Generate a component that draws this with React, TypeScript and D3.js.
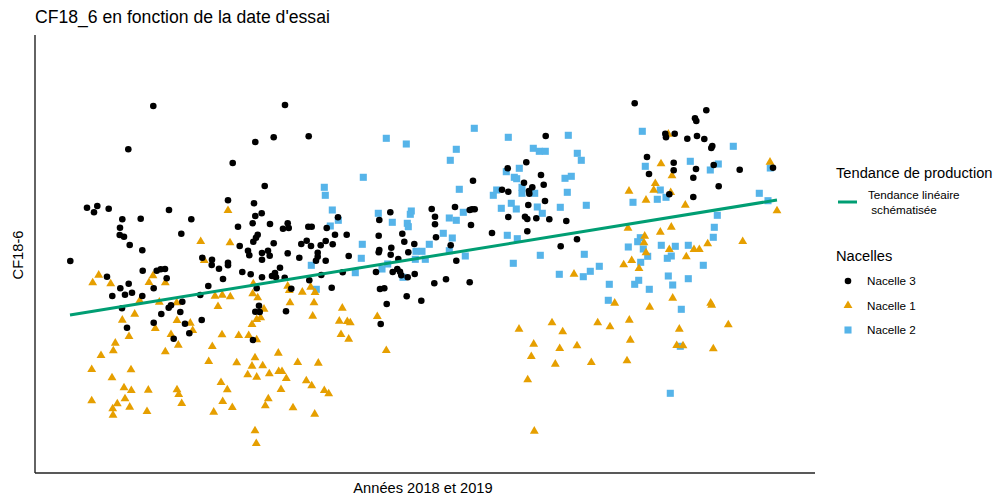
import React from "react";
import * as d3 from "d3";

// Data: x = position along the test period, y = CF18-6 (arbitrary units)
const nacelle3: [number, number][] = [
  [118.3,367],[93.3,323.7],[197.7,310],[193,272.7],[52,265.3],[62.3,267],[59,260.7],[73.7,264.3],[134,263],[87.3,253.7],
  [105.7,254.3],[156.3,253.7],[85,245.3],[84.7,238],[89,236.3],[146.3,239.3],[94.7,228],[107.3,222.7],[35.3,212],[167.3,215.3],
  [177,213.3],[176.7,208],[184,204.3],[193,210.3],[193,207.7],[107.7,202.3],[121.7,202.3],[125.7,203.7],[130,204],[72,196.3],
  [131.7,194.7],[188,194],
  [250,368],[220.3,331],[238.7,335.7],[273.7,336.7],[229.7,287],[219,269.7],[220.3,257],[226.7,259.7],[203,246.3],[217.7,249.7],
  [235,249],[248,244.3],[252.7,249.7],[253.7,245],[273.3,246.3],[276.7,246.3],[291.7,245],[303,255.7],[300,238.3],[311.7,238.3],
  [222.7,238.3],[221,235.3],[218.3,231.3],[204.7,227],[238.7,229.7],[213,222.3],[214.3,217.7],[227,220],[233,222.3],[234.7,217.3],
  [227,213.3],[252.7,219.7],[245,205.3],[264.3,215.3],[266.3,229],[271.7,232.3],[276,227],[285.7,227.7],[290.7,232],[297.7,228.7],
  [282.7,220.3],[282.7,216.3],[281,212.3],[290.7,212.3],[313.7,217],[207.3,201],[215.7,198.7],[227,195.7],[237,197],[240,200],
  [241,195.7],[249.7,195.3],[286.3,198],[307.7,200.7],[355.3,260.7],[344.3,253],[343.7,237.3],[396.7,264],[400,256.3],[400,248.7],
  [367.3,239.3],[356.3,225.3],[344.3,223],[343.7,220.7],[355.7,218.3],[369.3,231.3],[379.3,229],[373.3,220.7],[363.3,214],[401,235.7],
  [341,201],[357.7,201],[362.3,204],[365,201.3],[366.3,197.7],[372.7,195.7],[379.7,199],
  [599.7,369.7],[510.7,337],[472.7,304.7],[491.3,310.7],[506,298],[489,290.3],[497.3,285.7],[508.7,288.3],[438,292.3],[467,283.3],
  [473.3,281.3],[494,282],[494.3,279.3],[510,272],[493.3,268],[420,266],[434.7,263],[437,263.7],[439.7,263.7],[473.3,256],
  [490,256.3],[492.3,254],[501.3,254.7],[514.3,253.7],[531.3,252],[436,248],[457,240],[492.3,241.7],[415.7,227.7],[542,233.7],
  [525.7,226.7],[421.3,212.3],[411,193.7],
  [671.3,362.7],[660,354.7],[661.3,352],[630.3,339.3],[631,335.7],[639.7,339.3],[652.3,334.3],[662,337],[669.3,334],[677.3,327],
  [676.3,325],[612,316],[638.7,310.3],[638.7,302.7],[614,299],[661,304],[678.7,308],[704.7,303.3],[658.3,295.3],[683.7,286.7],
  [658.3,276],[634.3,278.7],[738,305.3],
  [85.3,184.7],[93.7,189.3],[77.3,177],[90,178.3],[97,180.3],[107.3,177],[118.7,184.7],[87,164.7],[92,145.3],[126.3,159],
  [133.7,165.3],[136,167.7],[147.3,171.3],[145.3,161],[118.7,150.3],[150,149.3],[154.3,139.7],[138.7,134.3],[166.7,153],[165.3,178],
  [173.3,187],
  [274.3,192.7],[221.7,184.7],[256.3,184.3],[296.7,185.3],[224,167.3],[220.3,161.3],[224.7,161],[251,161.7],[218,133],[399.3,189.7],
  [345,184],[349.3,184.7],[371.7,176.7],[386.3,172.3],[351.7,169],[345.7,149],[434.7,190.7],
];

const nacelle2: [number, number][] = [
  [351.3,334.7],[371.3,329],[328.3,295.7],[289.3,285.7],[290.3,277.7],[297.3,263],[303.3,252.7],[295.3,247],[343.3,259.7],[357.3,250.7],
  [372.3,249.7],[373.3,246.3],[376.3,262],[375.3,258.7],[327.3,228.7],[326.3,214.7],[276.3,207.7],[320.3,200.3],[347,204],[352.7,209],
  [381,221.7],[387,221.7],[380.3,213.7],[390.3,213.7],[394.3,228.7],[368,195.7],[281.3,183.7],
  [439.3,344.7],[473.3,335.7],[421.3,323.7],[415.3,312.7],[533.3,337.7],[498.3,324.7],[504.3,321.7],[510.3,321.7],[542.3,319.7],[546.3,312.7],
  [484.3,304.7],[471.3,301.3],[479.3,295.7],[481.7,294.3],[530,294.7],[536.3,296.7],[424.3,283.7],[461.7,283],[458.3,277.7],[487,285.7],
  [487,279.7],[499.7,279.7],[532.3,280.7],[476.3,269.7],[466.3,264.7],[481.3,264],[502.3,266],[507.3,259.7],[525.3,265.7],[551.3,267.7],
  [428.3,260.7],[414.3,255],[421.3,252.7],[408.3,239.7],[417.3,235],[472.3,237.7],[482.3,234.3],[414.3,222.3],[430.3,217],[505.3,217.7],
  [478.3,209.7],[549.3,218.7],[564.3,206.7],[555.3,201.7],[548.3,196.3],[524.3,198.7],[598,270.7],[593.3,226],
  [607.3,341.7],[698.3,326.7],[610.3,306.7],[655.3,311.7],[683.3,309],[675.3,303],[735.3,305],[625.3,283],[622.3,273.7],[631,275.7],
  [724.3,279.7],[733,272.3],[682.3,257.7],[679.3,245.7],[678.3,235.7],[605.3,235.3],[602.7,231.3],[608.3,224],[626.3,227.7],[640.3,226.7],
  [653.3,227.7],[612.7,216.7],[636.3,217],[632.3,214.7],[605.7,210.7],[668.3,207.7],[633.3,197],[653.3,194.3],
  [574.3,188.7],[573.3,172.7],[599.7,188.7],[603.7,192.7],[637.7,188],[614.3,183.7],[646.3,163.7],[645.3,126.7],[635.3,79.7],
];

const nacelle1: [number, number][] = [
  [193,263],[165.7,232],[195,230.7],[169.3,213],[63.7,198.3],[118,197.7],
  [57.7,190.7],[75.7,189.7],[114,191],[130.3,190.7],[104.7,172.7],[124.3,171.3],[141.7,170.7],[99.7,159.3],[87.3,153.3],[142,153],
  [155.3,150.3],[157.7,143],[120.3,145],[94,137],[136,139],[143.3,128.3],[80.3,130.3],[78.3,122.7],[66,118],[130.3,121.7],
  [56.7,104],[96,103.7],[77,95.7],[89,85.7],[96.3,83],[113.3,83.3],[142,83.7],[143.7,79],[90,74.7],[82.3,69.7],
  [94.7,66.3],[77.7,64.7],[78,58.3],[56.7,72.7],[112,62],[146.7,70],[180,177.3],[187.3,178.3],[195.3,176.7],[183,167],
  [187,138.7],[177.3,127],[173.7,112],[186,91],[192.3,83.7],[187.7,72],[178.7,61.3],[197.3,66],
  [218.3,189.7],[217.7,179.7],[222.7,175.7],[252.7,187.3],[254.3,183],[267.3,181.3],[275.7,186.3],[280,181],[255,170.7],[279,170.7],
  [229,164.3],[225.7,155.7],[221.7,154],[217,149],[277.7,157.3],[307.3,165.3],[304.3,152.3],[312.3,152],[315.3,150.7],[306,139],
  [313.7,134.3],[342.3,157],[203.7,138],[213.7,138],[221.7,133.7],[351.3,123],[243.3,120.3],[220,115.7],[201.7,110.7],[217,107.3],
  [227.7,107.7],[262.7,111],[283.3,110.3],[212.7,98.7],[221.7,96.3],[234.3,99.7],[243.7,102],[247,102],[251.3,95],[271.3,92.7],
  [276.7,87.7],[246,84],[289.3,83],[293.7,79.7],[233.3,74.7],[230.3,67.7],[258,65.7],[279.7,59.3],[220,42.7],[221.3,30],
  [594,282.3],[593,245.3],[588.7,208.7],[596.7,213],[539,199.3],
  [579.7,170.3],[484,144.3],[517,150.7],[527.7,141.7],[498.7,129.3],[496.3,117],[524.7,125],[542,127.7],[562.7,150.7],[575,146.7],
  [594.3,153.3],[595.3,133.3],[556.3,111],[592,112.7],[520.3,109.3],[492.7,93.7],[499.3,42.3],
  [633.3,339.3],[626,309.7],[637,297.7],[620.3,290],[618.7,283.3],[635.7,281],[611,273.3],[650.3,268.3],[735,311.3],[742,262.7],
  [636.3,246.3],[625.3,241.3],[609.7,237.3],[609,230.7],[611,220.7],[634.3,224],[659,224],[664.3,224],[672.7,229.7],[707.7,232],
  [651.3,216.7],[604,205],
  [637.7,175.3],[614.7,166.3],[675.7,170.3],[676.7,168.3],[693.3,148.7],[644.3,144.3],[641.7,128],[648,127.7],[678.3,124.7],
];

const trendX = [35, 742];
const trendY = [158, 273];

const titleText = "CF18_6 en fonction de la date d'essai";
const xLabel = "Années 2018 et 2019";
const yLabel = "CF18-6";
const legendLineTitle = "Tendance de production";
const legendLineLabel = ["Tendance linéaire", " schématisée"];
const legendPointTitle = "Nacelles";
const legendPointLabels = ["Nacelle 3", "Nacelle 1", "Nacelle 2"];

const BLACK = "#000000";
const ORANGE = "#E69F00";
const BLUE = "#56B4E9";
const GREEN = "#009E73";

export default function App() {
  const W = 1002, H = 499;
  const left = 35, right = 815, top = 35, bottom = 473;
  const x = d3.scaleLinear().domain([0, 780]).range([left, right]);
  const y = d3.scaleLinear().domain([0, 438]).range([bottom, top]);
  const tri = d3.symbol().type(d3.symbolTriangle).size(34)()!;
  const sq = d3.symbol().type(d3.symbolSquare).size(50)()!;
  const line = d3.line<number>().x((d, i) => x(trendX[i])).y((d, i) => y(trendY[i]));
  const font = "'Liberation Sans', Arial, Helvetica, sans-serif";

  return (
    <svg width={W} height={H} style={{ position: "absolute", left: 0, top: 0, background: "#fff" }} fontFamily={font}>
      <text x={35} y={22.5} fontSize={17.6} fill="#000">{titleText}</text>
      <line x1={left} y1={top} x2={left} y2={bottom} stroke="#222" strokeWidth={1.4} />
      <line x1={left} y1={bottom} x2={right} y2={bottom} stroke="#222" strokeWidth={1.4} />
      <text x={423} y={493} fontSize={14.67} textAnchor="middle" fill="#000">{xLabel}</text>
      <text transform="translate(23,255) rotate(-90)" fontSize={14.67} textAnchor="middle" fill="#000">{yLabel}</text>

      <g>
        {nacelle2.map((d, i) => (
          <path key={"b" + i} d={sq} transform={`translate(${x(d[0])},${y(d[1])})`} fill={BLUE} />
        ))}
        {nacelle1.map((d, i) => (
          <path key={"o" + i} d={tri} transform={`translate(${x(d[0])},${y(d[1]) + 0.5})`} fill={ORANGE} />
        ))}
        {nacelle3.map((d, i) => (
          <circle key={"k" + i} cx={x(d[0])} cy={y(d[1])} r={3.3} fill={BLACK} />
        ))}
      </g>
      <path d={line(trendX) || ""} stroke={GREEN} strokeWidth={3} fill="none" />

      <g>
        <text x={836} y={178} fontSize={14.67} fill="#000">{legendLineTitle}</text>
        <line x1={838} x2={857} y1={202} y2={202} stroke={GREEN} strokeWidth={3} />
        <text x={868} y={199} fontSize={11.7} fill="#000">{legendLineLabel[0]}</text>
        <text x={868} y={214} fontSize={11.7} fill="#000" style={{ whiteSpace: "pre" }}>{legendLineLabel[1]}</text>
        <text x={836} y={261} fontSize={14.67} fill="#000">{legendPointTitle}</text>
        <circle cx={848} cy={281} r={3.3} fill={BLACK} />
        <path d={tri} transform="translate(848,305.5)" fill={ORANGE} />
        <path d={sq} transform="translate(848,330)" fill={BLUE} />
        {legendPointLabels.map((t, i) => (
          <text key={t} x={867} y={285 + i * 24.5} fontSize={11.7} fill="#000">{t}</text>
        ))}
      </g>
    </svg>
  );
}
